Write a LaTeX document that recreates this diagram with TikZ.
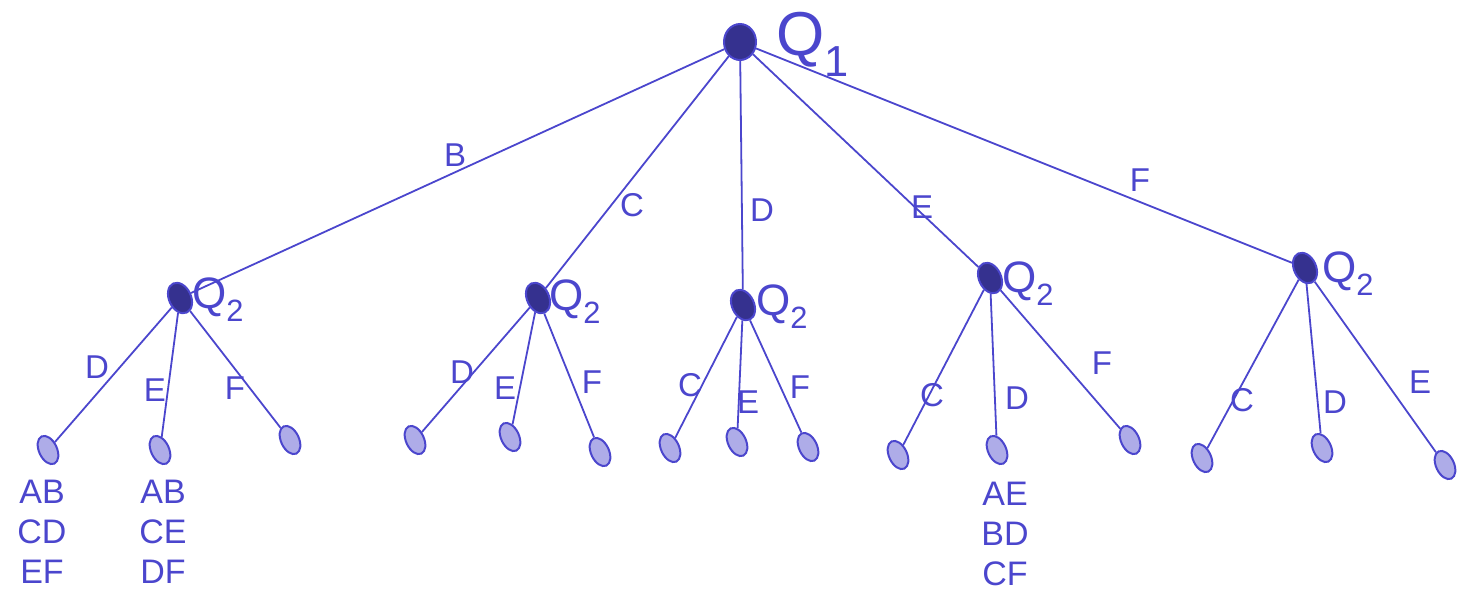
\documentclass[tikz,border=0pt]{standalone}
\usepackage{fontspec}
\setmainfont{Liberation Sans}
\usetikzlibrary{shapes.geometric}
\definecolor{pen}{RGB}{75,70,205}
\tikzset{
  edge/.style={draw=pen, line width=1.8pt},
  root/.style={ellipse, draw=pen, line width=2pt, fill=pen!70!black, minimum width=32pt, minimum height=36pt, inner sep=0pt},
  mid/.style={ellipse, draw=pen, line width=2pt, fill=pen!70!black, minimum width=22pt, minimum height=32pt, inner sep=0pt, rotate=25},
  leaf/.style={ellipse, draw=pen, line width=2pt, fill=pen!45, minimum width=18pt, minimum height=30pt, inner sep=0pt, rotate=25},
  elab/.style={text=pen, font=\fontsize{33}{35}\selectfont, inner sep=0pt},
  qlab/.style={text=pen, font=\fontsize{44}{46}\selectfont, inner sep=0pt},
  rlab/.style={text=pen, font=\fontsize{62}{64}\selectfont, inner sep=0pt},
  leaftext/.style={text=pen, font=\fontsize{34}{40}\selectfont, align=center, inner sep=0pt}
}
\begin{document}
\begin{tikzpicture}[x=1pt,y=-1pt]
\useasboundingbox (0,0) rectangle (1480,595);
% root
\node[root] (r) at (740,42) {};
\node[rlab, anchor=west] (rq) at (776,44) {Q\textsubscript{1}};
% level 2
\node[mid] (n1) at (180,298) {};
\node[mid] (n2) at (538,298) {};
\node[mid] (n3) at (743,305) {};
\node[mid] (n4) at (990,278) {};
\node[mid] (n5) at (1305,268) {};
\node[qlab, anchor=west] (q1) at (192,300) {Q\textsubscript{2}};
\node[qlab, anchor=west] (q2) at (549,302) {Q\textsubscript{2}};
\node[qlab, anchor=west] (q3) at (756,307) {Q\textsubscript{2}};
\node[qlab, anchor=west] (q4) at (1002,284) {Q\textsubscript{2}};
\node[qlab, anchor=west] (q5) at (1322,274) {Q\textsubscript{2}};
\draw[edge] (r) -- (n1);
\draw[edge] (r) -- (n2);
\draw[edge] (r) -- (n3);
\draw[edge] (r) -- (n4);
\draw[edge] (r) -- (n5);
\node[elab] (lb) at (455,155) {B};
\node[elab] (lc) at (632,205) {C};
\node[elab] (ld) at (762,210) {D};
\node[elab] (le) at (922,207) {E};
\node[elab] (lf) at (1140,180) {F};
% leaves
\node[leaf] (a1) at (48,450) {};
\node[leaf] (a2) at (160,450) {};
\node[leaf] (a3) at (290,440) {};
\node[leaf] (b1) at (415,440) {};
\node[leaf] (b2) at (510,437) {};
\node[leaf] (b3) at (600,452) {};
\node[leaf] (c1) at (670,448) {};
\node[leaf] (c2) at (737,442) {};
\node[leaf] (c3) at (808,447) {};
\node[leaf] (d1) at (898,455) {};
\node[leaf] (d2) at (997,450) {};
\node[leaf] (d3) at (1130,440) {};
\node[leaf] (e1) at (1202,458) {};
\node[leaf] (e2) at (1322,448) {};
\node[leaf] (e3) at (1445,465) {};
\foreach \p/\c in {n1/a1,n1/a2,n1/a3,n2/b1,n2/b2,n2/b3,n3/c1,n3/c2,n3/c3,n4/d1,n4/d2,n4/d3,n5/e1,n5/e2,n5/e3}
  \draw[edge] (\p) -- (\c);
\node[elab] (la1) at (97,367) {D};
\node[elab] (la2) at (155,390) {E};
\node[elab] (la3) at (235,388) {F};
\node[elab] (lb1) at (462,372) {D};
\node[elab] (lb2) at (505,388) {E};
\node[elab] (lb3) at (592,382) {F};
\node[elab] (lc1) at (690,385) {C};
\node[elab] (lc2) at (748,402) {E};
\node[elab] (lc3) at (800,387) {F};
\node[elab] (ld1) at (932,395) {C};
\node[elab] (ld2) at (1017,398) {D};
\node[elab] (ld3) at (1102,363) {F};
\node[elab] (le1) at (1242,400) {C};
\node[elab] (le2) at (1335,402) {D};
\node[elab] (le3) at (1420,382) {E};
% leaf texts
\node[leaftext, anchor=north] (t1) at (42,480) {AB\\CD\\EF};
\node[leaftext, anchor=north] (t2) at (163,480) {AB\\CE\\DF};
\node[leaftext, anchor=north] (t3) at (1005,482) {AE\\BD\\CF};
\end{tikzpicture}
\end{document}
